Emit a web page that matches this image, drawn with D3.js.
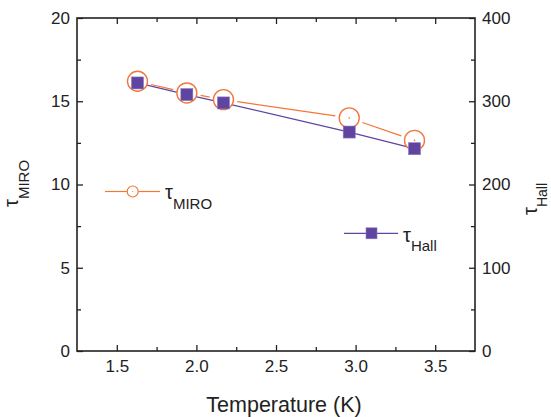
<!DOCTYPE html>
<html>
<head>
<meta charset="utf-8">
<script src="https://cdn.jsdelivr.net/npm/d3@7"></script>
<style>
  html, body { margin: 0; padding: 0; background: #fff; }
  svg { display: block; font-family: "Liberation Sans", Arial, sans-serif; }
</style>
</head>
<body>
<svg id="chart" width="551" height="417"></svg>
<script>
// Temperature (K) of each measurement
const temperature = [1.63, 1.94, 2.17, 2.96, 3.37];
// Relaxation times: MIRO on the left axis, Hall on the right axis
const tauMiro = [16.2, 15.5, 15.1, 14.0, 12.65];
const tauHall = [322, 308, 298, 263, 243];

const xTicks = [1.5, 2.0, 2.5, 3.0, 3.5];
const yLeftTicks = [0, 5, 10, 15, 20];
const yRightTicks = [0, 100, 200, 300, 400];

const orange = "#f2773a";
const purple = "#5f45a0";
const axisColor = "#222";

const svg = d3.select("#chart");
const L = 77, R = 475, T = 18, B = 351;

const x = d3.scaleLinear().domain([1.25, 3.75]).range([L, R]);
const yL = d3.scaleLinear().domain([0, 20]).range([B, T]);
const yR = d3.scaleLinear().domain([0, 400]).range([B, T]);

const major = 6, minor = 4;

function styleAxis(g) {
  g.select(".domain").remove();
  g.selectAll(".tick line").attr("stroke", axisColor).attr("stroke-width", 1.3);
  g.selectAll(".tick text").attr("fill", "#222").attr("font-size", 17)
    .attr("font-family", "Liberation Sans, Arial, sans-serif");
}

// bottom axis (ticks point inward)
svg.append("g").attr("transform", `translate(0,${B})`)
  .call(d3.axisBottom(x).tickValues(xTicks).tickFormat(d3.format(".1f"))
    .tickSizeInner(-major).tickSizeOuter(0).tickPadding(9))
  .call(styleAxis);
svg.append("g").attr("transform", `translate(0,${B})`)
  .call(d3.axisBottom(x).tickValues([1.75, 2.25, 2.75, 3.25]).tickFormat("")
    .tickSizeInner(-minor).tickSizeOuter(0))
  .call(styleAxis);
// top axis
svg.append("g").attr("transform", `translate(0,${T})`)
  .call(d3.axisTop(x).tickValues(xTicks).tickFormat("")
    .tickSizeInner(-major).tickSizeOuter(0))
  .call(styleAxis);
svg.append("g").attr("transform", `translate(0,${T})`)
  .call(d3.axisTop(x).tickValues([1.75, 2.25, 2.75, 3.25]).tickFormat("")
    .tickSizeInner(-minor).tickSizeOuter(0))
  .call(styleAxis);
// left axis
svg.append("g").attr("transform", `translate(${L},0)`)
  .call(d3.axisLeft(yL).tickValues(yLeftTicks).tickFormat(d3.format("d"))
    .tickSizeInner(-major).tickSizeOuter(0).tickPadding(7))
  .call(styleAxis);
svg.append("g").attr("transform", `translate(${L},0)`)
  .call(d3.axisLeft(yL).tickValues([2.5, 7.5, 12.5, 17.5]).tickFormat("")
    .tickSizeInner(-minor).tickSizeOuter(0))
  .call(styleAxis);
// right axis
svg.append("g").attr("transform", `translate(${R},0)`)
  .call(d3.axisRight(yR).tickValues(yRightTicks).tickFormat(d3.format("d"))
    .tickSizeInner(-major).tickSizeOuter(0).tickPadding(7))
  .call(styleAxis);
svg.append("g").attr("transform", `translate(${R},0)`)
  .call(d3.axisRight(yR).tickValues([50, 150, 250, 350]).tickFormat("")
    .tickSizeInner(-minor).tickSizeOuter(0))
  .call(styleAxis);

// frame
svg.append("rect").attr("x", L).attr("y", T).attr("width", R - L).attr("height", B - T)
  .attr("fill", "none").attr("stroke", axisColor).attr("stroke-width", 1.6);

// axis titles
svg.append("text").attr("x", (L + R) / 2 + 8).attr("y", 412)
  .attr("text-anchor", "middle").attr("font-size", 21.5).attr("fill", "#222")
  .text("Temperature (K)");

function tauLabel(sel, sub, size, subSize, shift) {
  sel.append("tspan").attr("font-size", size).text("τ");
  sel.append("tspan").attr("font-size", subSize).attr("dy", shift).text(sub);
}
svg.append("text").attr("transform", "translate(18,207) rotate(-90)")
  .attr("fill", "#222").call(tauLabel, "MIRO", 20, 15, 11);
svg.append("text").attr("transform", "translate(537,215) rotate(-90)")
  .attr("fill", "#222").call(tauLabel, "Hall", 20, 14, 9.5);

const pts = temperature.map((t, i) => ({
  cx: x(t), cm: yL(tauMiro[i]), ch: yR(tauHall[i])
}));

// Hall line and MIRO line (broken around circle markers)
svg.append("path").datum(pts)
  .attr("d", d3.line().x(d => d.cx).y(d => d.ch))
  .attr("fill", "none").attr("stroke", purple).attr("stroke-width", 1.2);

const rC = 10, gap = 14;
const segs = d3.pairs(pts).map(([a, b]) => {
  const dx = b.cx - a.cx, dy = b.cm - a.cm, len = Math.hypot(dx, dy);
  const ux = dx / len, uy = dy / len;
  return [a.cx + ux * gap, a.cm + uy * gap, b.cx - ux * gap, b.cm - uy * gap];
});
svg.append("g").selectAll("line").data(segs).join("line")
  .attr("x1", d => d[0]).attr("y1", d => d[1]).attr("x2", d => d[2]).attr("y2", d => d[3])
  .attr("stroke", orange).attr("stroke-width", 1.2);

// MIRO circles with centre dot
svg.append("g").selectAll("circle").data(pts).join("circle")
  .attr("cx", d => d.cx).attr("cy", d => d.cm).attr("r", rC)
  .attr("fill", "#fff").attr("stroke", orange).attr("stroke-width", 1.4);
svg.append("g").selectAll("circle").data(pts).join("circle")
  .attr("cx", d => d.cx).attr("cy", d => d.cm).attr("r", 0.8).attr("fill", orange);

// Hall squares
const sq = 12;
svg.append("g").selectAll("rect").data(pts).join("rect")
  .attr("x", d => d.cx - sq / 2).attr("y", d => d.ch - sq / 2)
  .attr("width", sq).attr("height", sq)
  .attr("fill", purple).attr("stroke", "#8a78c0").attr("stroke-width", 0.6);

// legend
const lg1 = svg.append("g");
lg1.append("line").attr("x1", 105).attr("x2", 127).attr("y1", 191.5).attr("y2", 191.5)
  .attr("stroke", orange).attr("stroke-width", 1.2);
lg1.append("line").attr("x1", 138.5).attr("x2", 160).attr("y1", 191.5).attr("y2", 191.5)
  .attr("stroke", orange).attr("stroke-width", 1.2);
lg1.append("circle").attr("cx", 132.7).attr("cy", 191.5).attr("r", 5.5)
  .attr("fill", "#fff").attr("stroke", orange).attr("stroke-width", 1.2);
lg1.append("circle").attr("cx", 132.7).attr("cy", 191.5).attr("r", 0.6).attr("fill", orange);
lg1.append("text").attr("x", 165).attr("y", 198.5).attr("fill", "#222")
  .call(tauLabel, "MIRO", 20, 15, 10.5);

const lg2 = svg.append("g");
lg2.append("line").attr("x1", 344).attr("x2", 398).attr("y1", 233.3).attr("y2", 233.3)
  .attr("stroke", purple).attr("stroke-width", 1.2);
lg2.append("rect").attr("x", 371.5 - 5.5).attr("y", 233.3 - 5.5).attr("width", 11).attr("height", 11)
  .attr("fill", purple).attr("stroke", "#8a78c0").attr("stroke-width", 0.6);
lg2.append("text").attr("x", 403).attr("y", 241.5).attr("fill", "#222")
  .call(tauLabel, "Hall", 20, 15, 9);
</script>
</body>
</html>
